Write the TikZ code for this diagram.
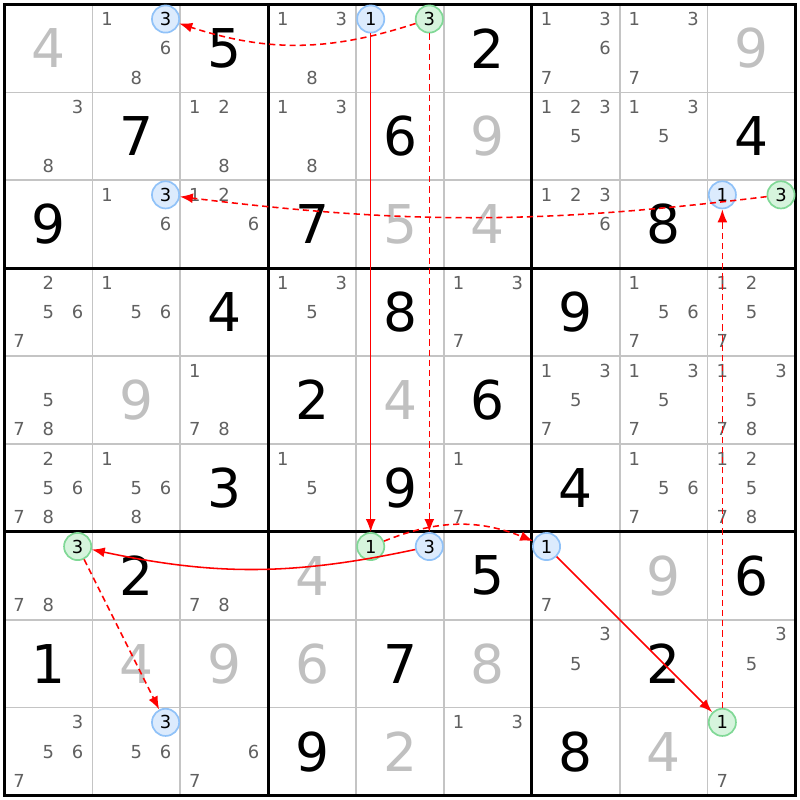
\documentclass[tikz,border=0pt]{standalone}
\usepackage{fontspec}
\setmainfont{DejaVu Sans}
\usetikzlibrary{arrows.meta}
\definecolor{candgray}{HTML}{606060}
\definecolor{solvedgray}{HTML}{C0C0C0}
\definecolor{gridgray}{HTML}{C4C4C4}
\definecolor{onfill}{HTML}{DCEBFD}
\definecolor{ondraw}{HTML}{90C2F8}
\definecolor{offfill}{HTML}{D6F4DD}
\definecolor{offdraw}{HTML}{80D896}

\begin{document}
\begin{tikzpicture}[x=1cm,y=-1cm,
    given/.style={font=\fontsize{17.3}{17.3}\selectfont,text=black},
    solved/.style={given,text=solvedgray},
    cand/.style={font=\fontsize{5.8}{5.8}\selectfont,text=candgray,inner sep=0pt},
    onmark/.style={circle,draw=ondraw,fill=onfill,line width=0.55pt,minimum size=8.8pt,inner sep=0pt,font=\fontsize{5.8}{5.8}\selectfont},
    offmark/.style={onmark,draw=offdraw,fill=offfill},
    strong/.style={draw=red,line width=0.5pt,-{Latex[length=4.2pt,width=3.2pt]}},
    weak/.style={strong,dash pattern=on 2pt off 1.3pt}]
    \useasboundingbox (-0.05,-0.05) rectangle (9.05,9.05);

    \foreach \i in {1,2,4,5,7,8}
        \draw[gridgray,line width=0.5pt] (\i,0) -- (\i,9) (0,\i) -- (9,\i);
    \foreach \i in {3,6}
        \draw[line width=1pt] (\i,0) -- (\i,9) (0,\i) -- (9,\i);
    \draw[line width=1pt] (0,0) rectangle (9,9);

    \foreach \r/\c/\d in {1/3/5,1/6/2,2/2/7,2/5/6,2/9/4,3/1/9,3/4/7,3/8/8,
        4/3/4,4/5/8,4/7/9,5/4/2,5/6/6,6/3/3,6/5/9,6/7/4,
        7/2/2,7/6/5,7/9/6,8/1/1,8/5/7,8/8/2,9/4/9,9/7/8}
        \node[given] (g\r\c) at (\c-0.5,\r-0.5) {\d};
    \foreach \r/\c/\d in {1/1/4,1/9/9,2/6/9,3/5/5,3/6/4,5/2/9,5/5/4,
        7/4/4,7/8/9,8/2/4,8/3/9,8/4/6,8/6/8,9/5/2,9/8/4}
        \node[solved] (s\r\c) at (\c-0.5,\r-0.5) {\d};

    \foreach \r/\c/\ds in {1/2/{1,6,8},1/4/{1,3,8},1/7/{1,3,6,7},1/8/{1,3,7},
        2/1/{3,8},2/3/{1,2,8},2/4/{1,3,8},2/7/{1,2,3,5},2/8/{1,3,5},
        3/2/{1,6},3/3/{1,2,6},3/7/{1,2,3,6},
        4/1/{2,5,6,7},4/2/{1,5,6},4/4/{1,3,5},4/6/{1,3,7},4/8/{1,5,6,7},4/9/{1,2,5,7},
        5/1/{5,7,8},5/3/{1,7,8},5/7/{1,3,5,7},5/8/{1,3,5,7},5/9/{1,3,5,7,8},
        6/1/{2,5,6,7,8},6/2/{1,5,6,8},6/4/{1,5},6/6/{1,7},6/8/{1,5,6,7},6/9/{1,2,5,7,8},
        7/1/{7,8},7/3/{7,8},7/7/{7},8/7/{3,5},8/9/{3,5},
        9/1/{3,5,6,7},9/2/{5,6},9/3/{6,7},9/6/{1,3},9/9/{7}}
        \foreach \d in \ds {
            \pgfmathsetmacro\px{\c-1+(mod(\d-1,3)+0.5)/3}
            \pgfmathsetmacro\py{\r-1+(int((\d-1)/3)+0.5)/3}
            \node[cand] (k\r\c\d) at (\px,\py) {\d};
        }

    \foreach \r/\c/\d/\st in {1/2/3/onmark,1/5/1/onmark,1/5/3/offmark,3/2/3/onmark,
        3/9/1/onmark,3/9/3/offmark,7/1/3/offmark,7/5/1/offmark,7/5/3/onmark,
        7/7/1/onmark,9/2/3/onmark,9/9/1/offmark} {
        \pgfmathsetmacro\px{\c-1+(mod(\d-1,3)+0.5)/3}
        \pgfmathsetmacro\py{\r-1+(int((\d-1)/3)+0.5)/3}
        \node[\st] (m\r\c\d) at (\px,\py) {\d};
    }

    \path
    (m153) edge[weak,bend left=18] (m123)
    (m151) edge[strong] (m751)
    (m751) edge[weak,bend left=22] (m771)
    (m753) edge[strong,bend left=12] (m713)
    (m713) edge[weak] (m923)
    (m771) edge[strong] (m991)
    (m991) edge[weak] (m391)
    (m393) edge[weak,bend left=7] (m323);
    \draw[weak] (m153) -- (m753);
\end{tikzpicture}
\end{document}
